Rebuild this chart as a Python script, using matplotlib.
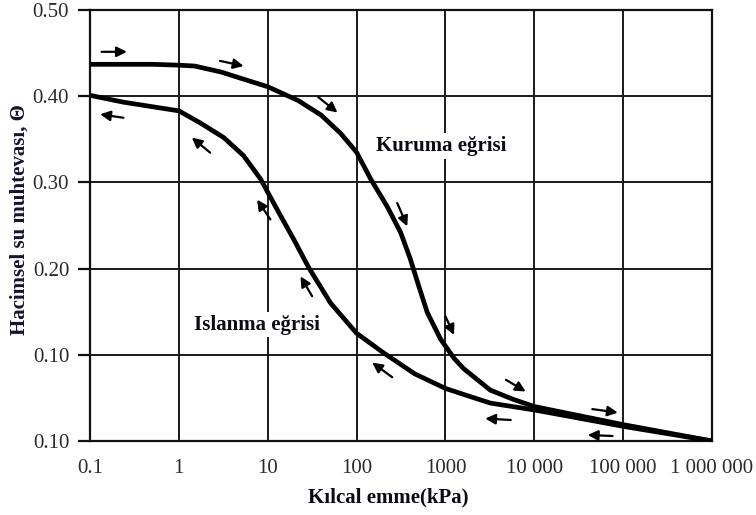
import matplotlib
matplotlib.use("Agg")
import matplotlib.pyplot as plt
from matplotlib.ticker import FixedLocator, NullLocator

plt.rcParams['font.family'] = ['Liberation Serif', 'DejaVu Serif']

# Drying curve (Kuruma eğrisi)
dry_x = [0.1, 0.5, 1, 1.5, 3, 4.9, 10, 22, 40, 66, 100, 144, 221, 313, 400,
         500, 625, 884, 1250, 1600, 2000, 3200, 5900, 10000, 30000, 100000,
         1000000]
dry_y = [0.437, 0.437, 0.436, 0.435, 0.428, 0.421, 0.411, 0.395, 0.378, 0.357,
         0.335, 0.304, 0.272, 0.242, 0.212, 0.180, 0.149, 0.118, 0.096, 0.084,
         0.076, 0.059, 0.048, 0.040, 0.030, 0.019, 0.0]

# Wetting curve (Islanma eğrisi)
wet_x = [0.1, 0.24, 1, 1.74, 3.2, 5.35, 8.3, 12.7, 19.6, 29, 51, 100, 203, 450,
         1000, 1500, 3200, 10000, 30000, 100000, 1000000]
wet_y = [0.401, 0.393, 0.383, 0.369, 0.352, 0.331, 0.304, 0.269, 0.234, 0.201,
         0.160, 0.125, 0.102, 0.078, 0.061, 0.055, 0.044, 0.036, 0.027, 0.017,
         0.0]

# Direction arrows: (tail_x, tail_y, head_x, head_y)
arrows = [
    (0.135, 0.4515, 0.26, 0.4515),
    (2.9, 0.441, 5.35, 0.435),
    (37, 0.399, 61, 0.381),
    (0.238, 0.375, 0.13, 0.379),
    (2.25, 0.3345, 1.4, 0.352),
    (10.7, 0.257, 7.6, 0.280),
    (31.6, 0.168, 23.4, 0.191),
    (287, 0.276, 372, 0.249),
    (1000, 0.1446, 1250, 0.123),
    (252, 0.074, 150, 0.091),
    (4800, 0.071, 8000, 0.0574),
    (5430, 0.0244, 2800, 0.026),
    (45000, 0.037, 87000, 0.033),
    (76000, 0.0058, 40000, 0.007),
]

x_ticks = [0.1, 1, 10, 100, 1000, 10000, 100000, 1000000]
x_labels = ['0.1', '1', '10', '100', '1000', '10 000', '100 000', '1 000 000']
y_ticks = [0.0, 0.1, 0.2, 0.3, 0.4, 0.5]
y_labels = ['0.10', '0.10', '0.20', '0.30', '0.40', '0.50']

fig = plt.figure(figsize=(7.56, 5.15), dpi=100)
ax = fig.add_axes([90/756, 1-441/515, (712-90)/756, (441-10)/515])

ax.set_xscale('log')
ax.set_xlim(0.1, 1000000)
ax.set_ylim(0, 0.5)

ax.xaxis.set_major_locator(FixedLocator(x_ticks))
ax.xaxis.set_minor_locator(NullLocator())
ax.set_xticks(x_ticks)
ax.set_xticklabels(x_labels)
ax.set_yticks(y_ticks)
ax.set_yticklabels(y_labels)

ax.grid(True, which='major', color='#1a1a1a', linewidth=1.4)
ax.set_axisbelow(True)
for s in ax.spines.values():
    s.set_linewidth(1.6)
    s.set_color('#111111')

ax.tick_params(axis='x', length=0, pad=13, labelsize=15, labelcolor='#2a2a2a')
ax.tick_params(axis='y', length=9, width=1.6, pad=6, labelsize=15, labelcolor='#2a2a2a',
               color='#111111')

ax.plot(dry_x, dry_y, color='black', linewidth=3.4, solid_joinstyle='round',
        solid_capstyle='butt', zorder=3)
ax.plot(wet_x, wet_y, color='black', linewidth=3.4, solid_joinstyle='round',
        solid_capstyle='butt', zorder=3)

for tx, ty, hx, hy in arrows:
    ax.annotate('', xy=(hx, hy), xytext=(tx, ty),
                arrowprops=dict(arrowstyle='-|>', color='black', lw=1.6,
                                mutation_scale=15, shrinkA=0, shrinkB=0),
                zorder=4)

ax.text(900, 0.342, 'Kuruma eğrisi', fontsize=15, fontweight='bold',
        ha='center', va='center', color='#0a0a14',
        bbox=dict(facecolor='white', edgecolor='none', pad=2), zorder=2.5)
ax.text(7.6, 0.135, 'Islanma eğrisi', fontsize=15, fontweight='bold',
        ha='center', va='center', color='#0a0a14',
        bbox=dict(facecolor='white', edgecolor='none', pad=2), zorder=2.5)

ax.set_xlabel('Kılcal emme(kPa)', fontsize=15, fontweight='bold', color='#0a0a14')
ax.xaxis.set_label_coords((388-90)/622, (441-487)/431)
ax.set_ylabel('Hacimsel su muhtevası, Θ', fontsize=15, fontweight='bold', color='#141432')
ax.yaxis.set_label_coords((30-90)/622, (441-220)/431)

fig.savefig('out.png', dpi=100)
